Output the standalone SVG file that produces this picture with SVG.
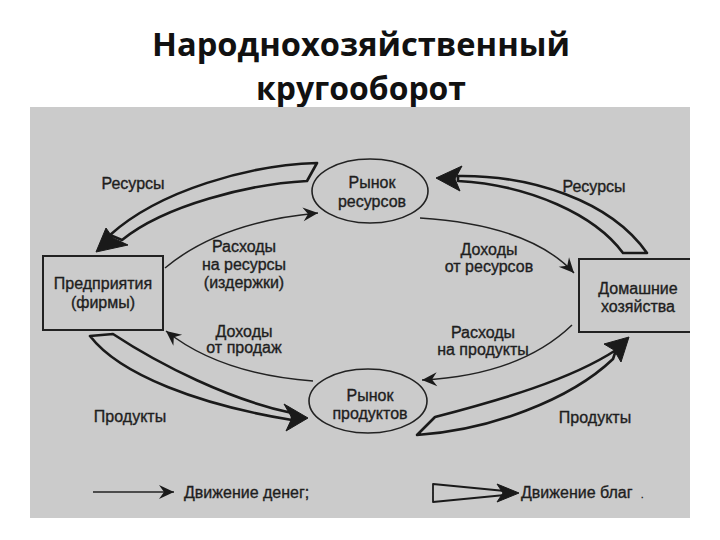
<svg xmlns="http://www.w3.org/2000/svg" width="720" height="540" viewBox="0 0 720 540">
<style>
.title{font-family:"Open Sans","Liberation Sans",sans-serif;font-weight:700;font-size:32px;fill:#111;text-anchor:middle}
.t{font-family:"Liberation Sans",Arial,sans-serif;font-size:16px;fill:#1e1e1e;stroke:#1e1e1e;stroke-width:0.35;text-anchor:middle}
.tl{font-family:"Liberation Sans",Arial,sans-serif;font-size:16px;fill:#1e1e1e;stroke:#1e1e1e;stroke-width:0.35}
.node{fill:none;stroke:#222;stroke-width:2}
.ell{fill:none;stroke:#222;stroke-width:1.6}
.thin{fill:none;stroke:#222;stroke-width:1.5}
.band{fill:#cbcbcb;stroke:#1a1a1a;stroke-width:2.6;stroke-linejoin:round}
.head{fill:#1a1a1a;stroke:#1a1a1a;stroke-width:1;stroke-linejoin:round}
</style>
<defs>
<marker id="arr" viewBox="-16 -8 18 16" refX="0" refY="0" markerWidth="18" markerHeight="16" markerUnits="userSpaceOnUse" orient="auto">
<path d="M0,0 L-15,-7 L-10,0 L-15,7 Z" fill="#1a1a1a"/>
</marker>
</defs>
<rect x="0" y="0" width="720" height="540" fill="#ffffff"/>
<text class="title" x="361" y="56" textLength="418" lengthAdjust="spacingAndGlyphs">Народнохозяйственный</text>
<text class="title" x="361" y="100" textLength="210" lengthAdjust="spacingAndGlyphs">кругооборот</text>
<rect x="30" y="107" width="660" height="411" fill="#cbcbcb"/>

<g id="connectors">
<!-- goods bands -->
<path class="band" d="M317,163 C250,165 160,190 110,235 L122,240 C165,205 250,184 307,181 Z"/>
<path class="head" d="M96,252 L106,228 L113,238 L128,245 Z"/>
<path class="band" d="M647,253 C610,200 530,175 458,176 L458,181 C530,185 595,215 623,253 Z"/>
<path class="head" d="M436,178 L462,166 L455,179 L460,191 Z"/>
<path class="band" d="M113,334 C160,365 230,400 292,413 L292,420 C200,405 120,375 90,336 Z"/>
<path class="head" d="M308,418 L284,404 L292,418 L286,431 Z"/>
<path class="band" d="M435,417 C500,400 570,380 616,350 L613,359 C570,400 490,430 417,435 Z"/>
<path class="head" d="M629,337 L604,344 L614,350 L621,362 Z"/>
<!-- money flows -->
<path class="thin" d="M165,268 Q220,222 318,213" marker-end="url(#arr)"/>
<path class="thin" d="M420,218 Q530,225 574,273" marker-end="url(#arr)"/>
<path class="thin" d="M572,325 Q520,375 422,380" marker-end="url(#arr)"/>
<path class="thin" d="M313,381 Q220,374 166,331" marker-end="url(#arr)"/>
</g>

<g id="firms">
<rect class="node" x="43" y="256" width="120" height="74"/>
<text class="t" x="103" y="289">Предприятия</text>
<text class="t" x="103" y="308">(фирмы)</text>
</g>
<g id="households">
<path class="node" d="M690,259 H579 V332 H690"/>
<text class="t" x="638" y="294">Домашние</text>
<text class="t" x="638" y="312">хозяйства</text>
</g>
<g id="resource-market">
<ellipse class="ell" cx="370" cy="191" rx="58" ry="32"/>
<text class="t" x="372" y="188">Рынок</text>
<text class="t" x="372" y="207">ресурсов</text>
</g>
<g id="product-market">
<ellipse class="ell" cx="368" cy="401" rx="59" ry="32"/>
<text class="t" x="370" y="401">Рынок</text>
<text class="t" x="370" y="419">продуктов</text>
</g>

<g id="labels">
<text class="t" x="133" y="189">Ресурсы</text>
<text class="t" x="594" y="192">Ресурсы</text>
<text class="t" x="244" y="252">Расходы</text>
<text class="t" x="244" y="270">на ресурсы</text>
<text class="t" x="244" y="288">(издержки)</text>
<text class="t" x="489" y="255">Доходы</text>
<text class="t" x="489" y="272">от ресурсов</text>
<text class="t" x="244" y="337">Доходы</text>
<text class="t" x="244" y="353">от продаж</text>
<text class="t" x="483" y="338">Расходы</text>
<text class="t" x="483" y="355">на продукты</text>
<text class="t" x="130" y="422">Продукты</text>
<text class="t" x="595" y="423">Продукты</text>
</g>

<g id="legend">
<line class="thin" x1="93" y1="492" x2="174" y2="492" marker-end="url(#arr)"/>
<text class="tl" x="184" y="498">Движение денег;</text>
<path class="band" d="M433,484 L433,502 L505,495 L505,491 Z" style="stroke-width:1.8"/>
<path class="head" d="M519,493 L497,484 L503,493 L497,502 Z"/>
<text class="tl" x="521" y="498">Движение благ</text>
<text class="tl" x="641" y="498" style="font-size:9px">.</text>
</g>
</svg>
